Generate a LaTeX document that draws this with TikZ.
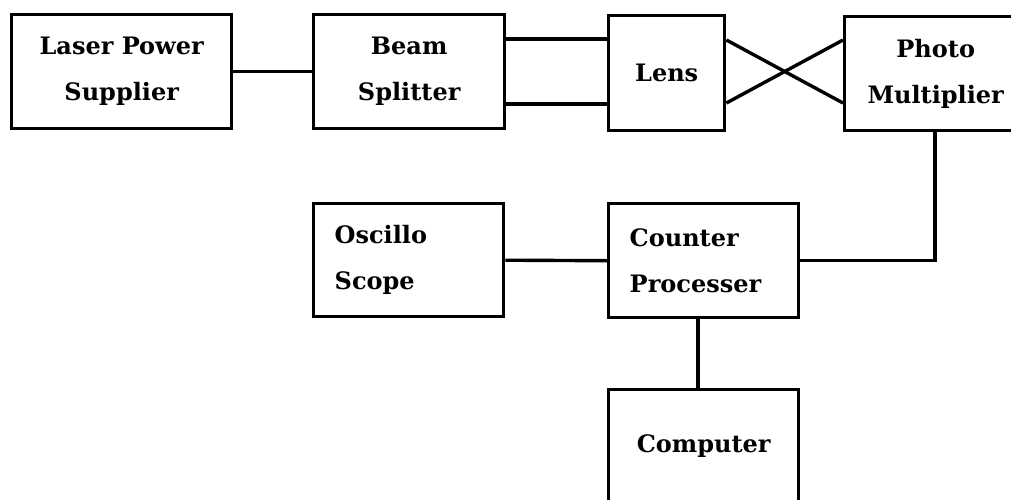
\documentclass[tikz,border=0pt]{standalone}
\usepackage{fontspec}
\setmainfont{DejaVu Serif}
\begin{document}
\begin{tikzpicture}[x=1pt,y=-1pt,
  box/.style={draw,line width=3.4pt,anchor=north west,inner sep=0pt,
    font=\fontsize{24}{46}\selectfont\bfseries,align=center},
  lbox/.style={box,align=left,text width=#1,inner xsep=21pt},
  conn/.style={line width=3.4pt}]
\useasboundingbox (0,0) rectangle (1011,499);
\clip (0,0) rectangle (1011,499);
\fill[white] (0,0) rectangle (1011,499);
\node[box,minimum width=220pt,minimum height=114pt] (laser) at (10,13) {Laser Power\\Supplier};
\node[box,minimum width=191pt,minimum height=114pt] (beam) at (312,13) {Beam\\Splitter};
\node[box,minimum width=116pt,minimum height=115pt] (lens) at (607,14) {Lens};
\node[box,minimum width=182pt,minimum height=114pt] (pm) at (843,15) {Photo\\Multiplier};
\node[lbox=148pt,minimum height=113pt] (osc) at (312,202) {Oscillo\\Scope};
\node[lbox=148pt,minimum height=114pt] (cnt) at (607,202) {Counter\\Processer};
\node[box,minimum width=190pt,minimum height=113pt] (comp) at (607,388) {Computer};
\draw[conn] (laser.east) -- (beam.west);
\draw[conn] (beam.east |- 0,39) -- (lens.west |- 0,39);
\draw[conn] (beam.east |- 0,104) -- (lens.west |- 0,104);
\draw[conn] (lens.east |- 0,40) -- (pm.west |- 0,103);
\draw[conn] (lens.east |- 0,103) -- (pm.west |- 0,40);
\draw[conn] (osc.east) -- (cnt.west);
\draw[conn] (pm.south -| 935,0) |- (cnt.east);
\draw[conn] (cnt.south -| 698,0) -- (comp.north -| 698,0);
\end{tikzpicture}
\end{document}
